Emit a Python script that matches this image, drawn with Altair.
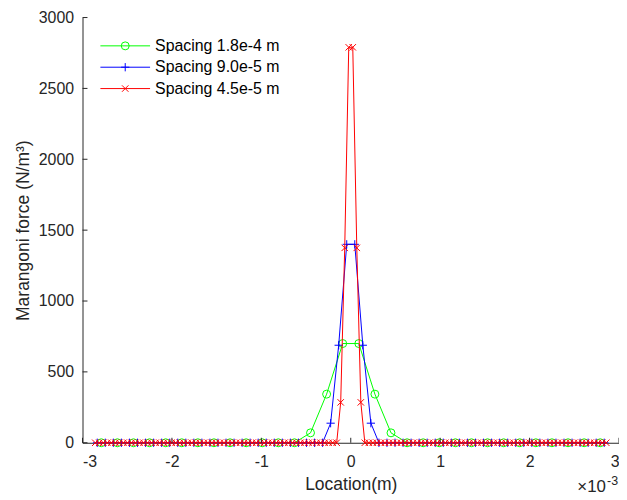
import altair as alt
import pandas as pd

# ---------------- data (x in units of 1e-3 m) ----------------
SERIES = ["Spacing 1.8e-4 m", "Spacing 9.0e-5 m", "Spacing 4.5e-5 m"]
COLORS = ["#00ff00", "#0000ff", "#ff0000"]

# positive half of each (symmetric) profile
GREEN_X_POS = [0.09, 0.27, 0.45, 0.63, 0.81, 0.99, 1.17, 1.35, 1.53, 1.71,
               1.89, 2.07, 2.25, 2.43, 2.61, 2.79]
GREEN_Y_POS = [700, 343, 70, 0, 0, 0, 0, 0, 0, 0,
               0, 0, 0, 0, 0, 0]

BLUE_X_POS = [0.045, 0.135, 0.225, 0.315, 0.405, 0.495, 0.585, 0.675, 0.765, 0.855,
              0.945, 1.035, 1.125, 1.215, 1.305, 1.395, 1.485, 1.575, 1.665, 1.755,
              1.845, 1.935, 2.025, 2.115, 2.205, 2.295, 2.385, 2.475, 2.565, 2.655,
              2.745, 2.835]
BLUE_Y_POS = [1400, 688, 138, 0, 0, 0, 0, 0, 0, 0,
              0, 0, 0, 0, 0, 0, 0, 0, 0, 0,
              0, 0, 0, 0, 0, 0, 0, 0, 0, 0,
              0, 0]

RED_X_POS = [0.0225, 0.0675, 0.1125, 0.1575, 0.2025, 0.2475, 0.2925, 0.3375,
             0.3825, 0.4275, 0.4725, 0.5175, 0.5625, 0.6075, 0.6525, 0.6975,
             0.7425, 0.7875, 0.8325, 0.8775, 0.9225, 0.9675, 1.0125, 1.0575,
             1.1025, 1.1475, 1.1925, 1.2375, 1.2825, 1.3275, 1.3725, 1.4175,
             1.4625, 1.5075, 1.5525, 1.5975, 1.6425, 1.6875, 1.7325, 1.7775,
             1.8225, 1.8675, 1.9125, 1.9575, 2.0025, 2.0475, 2.0925, 2.1375,
             2.1825, 2.2275, 2.2725, 2.3175, 2.3625, 2.4075, 2.4525, 2.4975,
             2.5425, 2.5875, 2.6325, 2.6775, 2.7225, 2.7675, 2.8125, 2.8575]
RED_Y_POS = [2790, 1375, 285, 0, 0, 0, 0, 0,
             0, 0, 0, 0, 0, 0, 0, 0,
             0, 0, 0, 0, 0, 0, 0, 0,
             0, 0, 0, 0, 0, 0, 0, 0,
             0, 0, 0, 0, 0, 0, 0, 0,
             0, 0, 0, 0, 0, 0, 0, 0,
             0, 0, 0, 0, 0, 0, 0, 0,
             0, 0, 0, 0, 0, 0, 0, 0]

X_TICKS = [-3, -2, -1, 0, 1, 2, 3]
Y_TICKS = [0, 500, 1000, 1500, 2000, 2500, 3000]

# ---------------- styles ----------------
FONT = "Liberation Sans"
AX = "#262626"
W, H = 540, 428
SHAPES = ["circle", "M-1,0L1,0M0,-1L0,1", "M-1,-1L1,1M-1,1L1,-1"]
SIZES = [64, 69, 42]


def full(xpos, ypos):
    xs = [-v for v in reversed(xpos)] + list(xpos)
    ys = list(reversed(ypos)) + list(ypos)
    return xs, ys


frames = []
for name, xp, yp in [(SERIES[0], GREEN_X_POS, GREEN_Y_POS),
                     (SERIES[1], BLUE_X_POS, BLUE_Y_POS),
                     (SERIES[2], RED_X_POS, RED_Y_POS)]:
    xs, ys = full(xp, yp)
    frames.append(pd.DataFrame({"x": xs, "y": ys, "series": name}))
df = pd.concat(frames, ignore_index=True)

xscale = alt.Scale(domain=[-3, 3], nice=False, zero=False, padding=0)
yscale = alt.Scale(domain=[0, 3000], nice=False, zero=False, padding=0)

xaxis = alt.Axis(values=X_TICKS, ticks=False, grid=False,
                 labelExpr="'' + datum.value", labelFont=FONT, labelFontSize=16,
                 labelColor=AX, labelPadding=11, domainColor=AX, domainWidth=1,
                 title="Location(m)", titleFont=FONT, titleFontSize=17.6,
                 titleFontWeight="normal", titleColor=AX, titlePadding=6)
yaxis = alt.Axis(values=Y_TICKS, ticks=False, grid=False,
                 labelExpr="'' + datum.value", labelFont=FONT, labelFontSize=16,
                 labelColor=AX, labelPadding=9, domainColor=AX, domainWidth=1,
                 title="Marangoni force (N/m³)", titleFont=FONT, titleFontSize=17.6,
                 titleFontWeight="normal", titleColor=AX, titlePadding=6)

X = alt.X("x:Q", scale=xscale, axis=xaxis)
Y = alt.Y("y:Q", scale=yscale, axis=yaxis)

layers = []
for i, name in enumerate(SERIES):
    base = alt.Chart(df).transform_filter(alt.datum.series == name)
    layers.append(base.mark_line(color=COLORS[i], strokeWidth=1).encode(
        x=X, y=Y, order=alt.Order("x:Q")))
    layers.append(base.mark_point(shape=SHAPES[i], size=SIZES[i], filled=False,
                                  color=COLORS[i], strokeWidth=1, opacity=1)
                  .encode(x=X, y=Y))

# inward tick marks (MATLAB style)
xt = alt.Chart(pd.DataFrame({"x": X_TICKS})).mark_rule(color=AX, strokeWidth=1).encode(
    x=X, y=alt.value(H), y2=alt.value(H - 5))
yt = alt.Chart(pd.DataFrame({"y": Y_TICKS})).mark_rule(color=AX, strokeWidth=1).encode(
    y=Y, x=alt.value(0), x2=alt.value(5))
layers += [xt, yt]

# legend (no box)
LEG_Y = [28.5, 50, 71.5]
for i, name in enumerate(SERIES):
    one = alt.Chart(pd.DataFrame({"label": [name]}))
    layers.append(one.mark_rule(color=COLORS[i], strokeWidth=1).encode(
        x=alt.value(18), x2=alt.value(68), y=alt.value(LEG_Y[i])))
    layers.append(one.mark_point(shape=SHAPES[i], size=SIZES[i], filled=False,
                                 color=COLORS[i], strokeWidth=1, opacity=1).encode(
        x=alt.value(43), y=alt.value(LEG_Y[i])))
    layers.append(one.mark_text(align="left", baseline="middle", font=FONT,
                                fontSize=16, color="#000000").encode(
        x=alt.value(73), y=alt.value(LEG_Y[i]), text="label:N"))

# exponent note
layers.append(alt.Chart(pd.DataFrame({"s": ["×10"]})).mark_text(
    align="left", baseline="alphabetic", font=FONT, fontSize=17, color=AX).encode(
    x=alt.value(498), y=alt.value(478), text="s:N"))
layers.append(alt.Chart(pd.DataFrame({"s": ["-3"]})).mark_text(
    align="left", baseline="alphabetic", font=FONT, fontSize=12.5, color=AX).encode(
    x=alt.value(528), y=alt.value(471), text="s:N"))

chart = alt.layer(*layers).properties(
    width=W, height=H, autosize=alt.AutoSizeParams(type="none"),
    padding={"left": 75, "top": 8, "right": 0, "bottom": 54},
    background="white",
).configure_view(stroke=None)

chart.save("out.html", embed_options={"renderer": "svg", "actions": False})
